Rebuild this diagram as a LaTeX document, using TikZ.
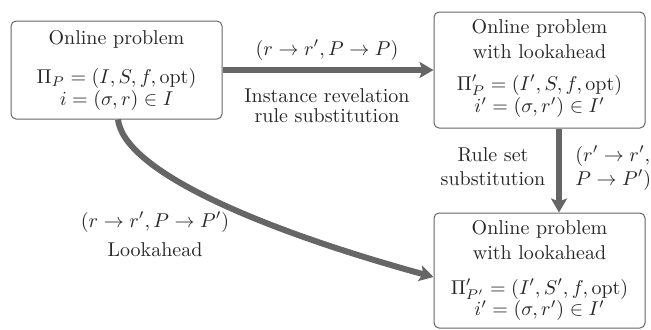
\documentclass[tikz,border=0pt]{standalone}
\usetikzlibrary{arrows.meta}
\begin{document}
\begin{tikzpicture}[x=0.5pt,y=-0.5pt,
  box/.style={draw=black!60, line width=0.5pt, rounded corners=2.5pt,
    minimum width=105.5pt, inner sep=0pt},
  txt/.style={anchor=base, inner sep=0pt, text=black!85},
  conn/.style={draw=black!60, line width=3pt,
    -{Stealth[length=7pt,width=8pt,inset=1.5pt]}}]
\useasboundingbox (0,0) rectangle (651,329);

\node[box, minimum height=49pt] (A) at (116.5,70) {};
\node[txt] (a1) at (116.5,44) {Online problem};
\node[txt] (a2) at (116.5,83.5) {$\Pi_P=(I,S,f,\mathrm{opt})$};
\node[txt] (a3) at (116.5,105) {$i=(\sigma,r)\in I$};

\node[box, minimum height=58pt] (B) at (539.5,70) {};
\node[txt] (b1) at (539.5,33) {Online problem};
\node[txt] (b2) at (539.5,58) {with lookahead};
\node[txt] (b3) at (539.5,90) {$\Pi'_P=(I',S,f,\mathrm{opt})$};
\node[txt] (b4) at (539.5,112.5) {$i'=(\sigma,r')\in I'$};

\node[box, minimum height=57.5pt] (C) at (539.5,270.5) {};
\node[txt] (c1) at (539.5,234) {Online problem};
\node[txt] (c2) at (539.5,259) {with lookahead};
\node[txt] (c3) at (539.5,294) {$\Pi'_{P'}=(I',S',f,\mathrm{opt})$};
\node[txt] (c4) at (539.5,315.5) {$i'=(\sigma,r')\in I'$};

\coordinate (vx) at (559,0);
\draw[conn] (A) -- (B);
\draw[conn] (B.south -| vx) -- (C.north -| vx);
\draw[conn] ([xshift=0.75pt]A.south) .. controls (124,170) and (255,228) .. ([yshift=-3.25pt]C.west);

\node[txt] (l1) at (327,55) {$(r\to r', P\to P)$};
\node[txt] (l2a) at (327,102) {Instance revelation};
\node[txt] (l2b) at (327,122) {rule substitution};
\node[txt] (l3a) at (493,161) {Rule set};
\node[txt] (l3b) at (493,185) {substitution};
\node[txt, anchor=base west] (l4a) at (575,161) {$(r'\to r',$};
\node[txt, anchor=base west] (l4b) at (575,185) {$P\to P')$};
\node[txt] (l5a) at (155,227) {$(r\to r',P\to P')$};
\node[txt] (l5b) at (155,256) {Lookahead};
\end{tikzpicture}
\end{document}
